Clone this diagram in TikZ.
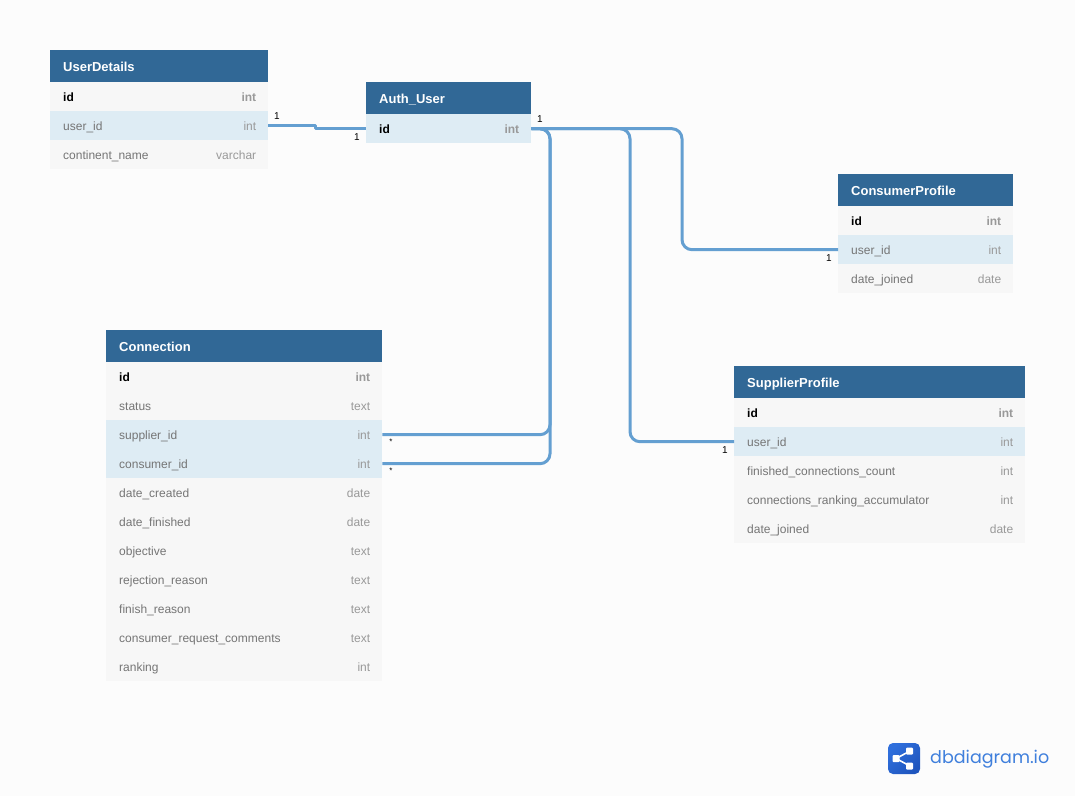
\documentclass[tikz,border=0pt]{standalone}
\usepackage{fontspec}
\setmainfont{Liberation Sans}
\newfontfamily\logofont{Poppins}
\definecolor{bgc}{HTML}{FCFCFC}
\definecolor{hdrc}{HTML}{316896}
\definecolor{rowc}{HTML}{F7F7F7}
\definecolor{hlc}{HTML}{DEECF4}
\definecolor{txtc}{HTML}{757575}
\definecolor{typc}{HTML}{999999}
\definecolor{relc}{HTML}{649FD1}
\definecolor{logoa}{HTML}{2F6FDC}
\definecolor{logob}{HTML}{1F55BE}
\definecolor{logot}{HTML}{3F7FDC}
\newcommand{\rowtext}[2]{#1\hfill{\color{typc}#2}\kern-1pt}
\newcommand{\keytext}[2]{\textbf{\color{black}#1}\hfill{\color{typc}\textbf{#2}}\kern-1pt}
\tikzset{
  basecell/.style={anchor=north west,inner xsep=13pt,inner ysep=0pt,text height=12pt,text depth=2pt,font=\fontsize{12}{14}\selectfont,text=txtc},
  hdr/.style={basecell,fill=hdrc,text=white,minimum height=32pt,font=\bfseries\fontsize{13}{14}\selectfont},
  plain/.style={basecell,fill=rowc,minimum height=29pt},
  hl/.style={basecell,fill=hlc,minimum height=29pt},
  rel/.style={draw=relc,line width=3pt,rounded corners=10pt},
  card/.style={font=\fontsize{10}{12}\selectfont,text=black,inner sep=0pt},
}
\newcommand{\tcell}[6]{\node[#1,minimum width=#5pt,text width=#5pt-26pt] (#2) at (#3,#4) {#6};}
\begin{document}
\begin{tikzpicture}[x=1pt,y=-1pt]
\useasboundingbox[fill=bgc] (0,0) rectangle (1075,796);
% UserDetails
\tcell{hdr}{udh}{50}{50}{218}{UserDetails}
\tcell{plain}{udid}{50}{82}{218}{\keytext{id}{int}}
\tcell{hl}{uduser}{50}{111}{218}{\rowtext{user\_id}{int}}
\tcell{plain}{udcont}{50}{140}{218}{\rowtext{continent\_name}{varchar}}
% Auth_User
\tcell{hdr}{auh}{366}{82}{165}{Auth\_User}
\tcell{hl}{auid}{366}{114}{165}{\keytext{id}{int}}
% ConsumerProfile
\tcell{hdr}{cph}{838}{174}{175}{ConsumerProfile}
\tcell{plain}{cpid}{838}{206}{175}{\keytext{id}{int}}
\tcell{hl}{cpuser}{838}{235}{175}{\rowtext{user\_id}{int}}
\tcell{plain}{cpdate}{838}{264}{175}{\rowtext{date\_joined}{date}}
% SupplierProfile
\tcell{hdr}{sph}{734}{366}{291}{SupplierProfile}
\tcell{plain}{spid}{734}{398}{291}{\keytext{id}{int}}
\tcell{hl}{spuser}{734}{427}{291}{\rowtext{user\_id}{int}}
\tcell{plain}{spfin}{734}{456}{291}{\rowtext{finished\_connections\_count}{int}}
\tcell{plain}{sprank}{734}{485}{291}{\rowtext{connections\_ranking\_accumulator}{int}}
\tcell{plain}{spdate}{734}{514}{291}{\rowtext{date\_joined}{date}}
% Connection
\tcell{hdr}{coh}{106}{330}{276}{Connection}
\tcell{plain}{coid}{106}{362}{276}{\keytext{id}{int}}
\tcell{plain}{costat}{106}{391}{276}{\rowtext{status}{text}}
\tcell{hl}{cosup}{106}{420}{276}{\rowtext{supplier\_id}{int}}
\tcell{hl}{cocons}{106}{449}{276}{\rowtext{consumer\_id}{int}}
\tcell{plain}{cocrea}{106}{478}{276}{\rowtext{date\_created}{date}}
\tcell{plain}{cofin}{106}{507}{276}{\rowtext{date\_finished}{date}}
\tcell{plain}{coobj}{106}{536}{276}{\rowtext{objective}{text}}
\tcell{plain}{corej}{106}{565}{276}{\rowtext{rejection\_reason}{text}}
\tcell{plain}{cofr}{106}{594}{276}{\rowtext{finish\_reason}{text}}
\tcell{plain}{cocrc}{106}{623}{276}{\rowtext{consumer\_request\_comments}{text}}
\tcell{plain}{corank}{106}{652}{276}{\rowtext{ranking}{int}}
% connector waypoints
\coordinate (v0) at (315,127);
\coordinate (v1) at (550,300);
\coordinate (v2) at (630,300);
\coordinate (v3) at (682,190);
% connectors
\draw[rel,sharp corners,line join=round] (uduser.east) -| (v0) |- (auid.west);
\draw[rel] (auid.east) -| (v1) |- (cosup.east);
\draw[rel] (auid.east) -| (v1) |- (cocons.east);
\draw[rel] (auid.east) -| (v2) |- (spuser.west);
\draw[rel] (auid.east) -| (v3) |- (cpuser.west);
% cardinalities
\node[card] (c1) at (277,116.5) {1};
\node[card] (c2) at (357,137.5) {1};
\node[card] (c3) at (540,119.5) {1};
\node[card] (c4) at (829,258.5) {1};
\node[card] (c5) at (725,450.5) {1};
\node[card,font=\fontsize{8}{10}\selectfont] (c6) at (391,442) {*};
\node[card,font=\fontsize{8}{10}\selectfont] (c7) at (391,471) {*};
% logo
\path[rounded corners=5pt,left color=logoa,right color=logob,shading angle=45] (888,743) rectangle (920,774);
\coordinate (la) at (896,758.5);
\coordinate (lb) at (910,751);
\coordinate (lc) at (910,766);
\draw[white,line width=1.6pt] (lb) -- (la) -- (lc);
\fill[white,rounded corners=1pt] (892.5,755) rectangle (899.5,762);
\fill[white,rounded corners=1pt] (906,747.5) rectangle (913,754.5);
\fill[white,rounded corners=1pt] (906,762.5) rectangle (913,769.5);
\node[anchor=west,inner sep=0pt,text=logot,font=\logofont\fontsize{17.5}{22}\selectfont] (logo) at (930,759.5) {dbdiagram.io};
\end{tikzpicture}
\end{document}
